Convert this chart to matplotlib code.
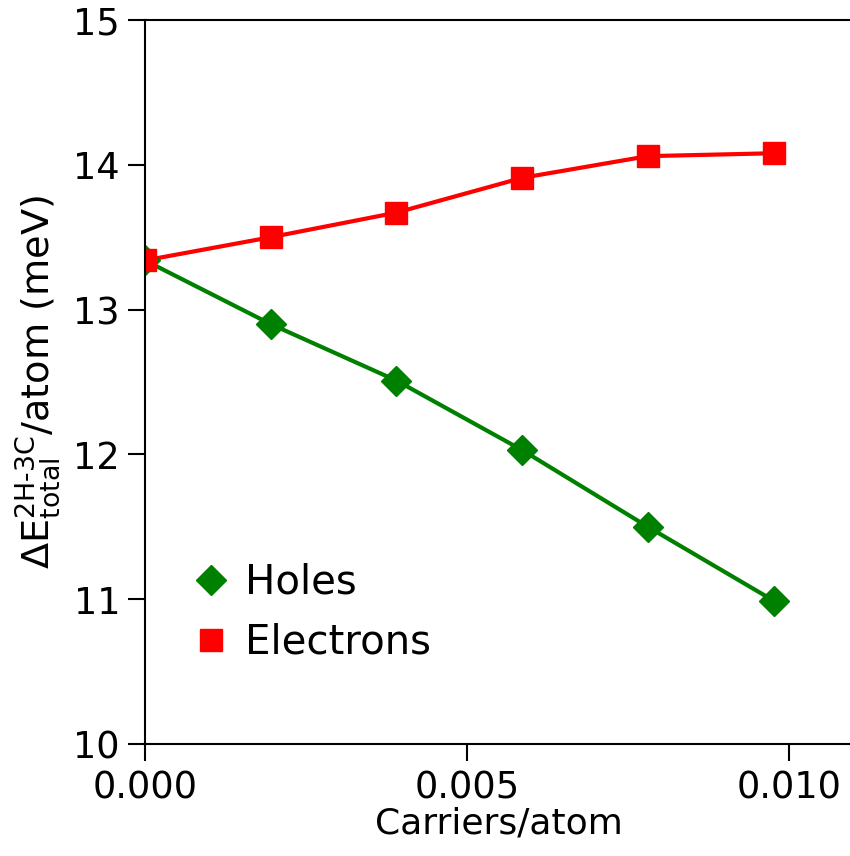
import numpy as np
import matplotlib
matplotlib.use('Agg')
import matplotlib.pyplot as plt

# carriers per atom
carriers = [0.0, 0.001953, 0.003906, 0.005859, 0.007812, 0.009766]
# energy difference per atom (meV)
holes = [13.34, 12.90, 12.51, 12.03, 11.50, 10.99]
electrons = [13.34, 13.50, 13.67, 13.91, 14.06, 14.08]

fig = plt.figure(figsize=(8.5, 8.56), dpi=100)
ax = fig.add_axes([0.1706, 0.1308, 0.833, 0.8458])

ax.plot(carriers, holes, '-', color='green', lw=3)
ax.plot(carriers, electrons, '-', color='red', lw=3)
ax.plot(carriers, holes, 'D', color='green', ms=15.5, label='Holes')
ax.plot(carriers, electrons, 's', color='red', ms=15.5, label='Electrons')

ax.set_xlim(0, 0.011)
ax.set_ylim(10, 15)
ax.set_xticks([0.0, 0.005, 0.010])
ax.set_xticklabels(['0.000', '0.005', '0.010'])
ax.set_yticks([10, 11, 12, 13, 14, 15])

ax.spines['right'].set_visible(False)
for s in ['left', 'bottom', 'top']:
    ax.spines[s].set_linewidth(1.5)
ax.tick_params(axis='both', which='major', labelsize=26.5, length=12, width=1.5,
               direction='out', top=False, right=False, pad=6)

ax.set_xlabel('Carriers/atom', fontsize=26, labelpad=0)
ax.set_ylabel(r'$\Delta\mathregular{E^{2H\text{-}3C}_{total}}$/atom (meV)', fontsize=27.5, labelpad=8)

ax.legend(loc='lower left', bbox_to_anchor=(0.019, 0.062), frameon=False, fontsize=29,
          handlelength=0.8, handletextpad=0.45, labelspacing=0.5, numpoints=1)

fig.savefig('out.png', dpi=100)
